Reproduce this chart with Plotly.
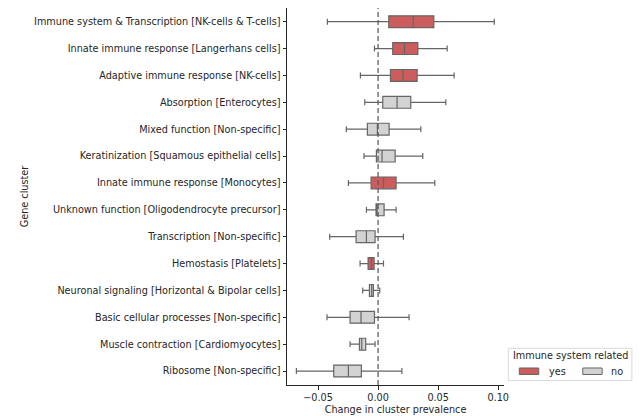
import plotly.graph_objects as go

# Gene clusters, top to bottom
clusters = [
    "Immune system & Transcription [NK-cells & T-cells]",
    "Innate immune response [Langerhans cells]",
    "Adaptive immune response [NK-cells]",
    "Absorption [Enterocytes]",
    "Mixed function [Non-specific]",
    "Keratinization [Squamous epithelial cells]",
    "Innate immune response [Monocytes]",
    "Unknown function [Oligodendrocyte precursor]",
    "Transcription [Non-specific]",
    "Hemostasis [Platelets]",
    "Neuronal signaling [Horizontal & Bipolar cells]",
    "Basic cellular processes [Non-specific]",
    "Muscle contraction [Cardiomyocytes]",
    "Ribosome [Non-specific]",
]
immune_related = ["yes", "yes", "yes", "no", "no", "no", "yes",
                  "no", "no", "yes", "no", "no", "no", "no"]

# Box statistics of the change in cluster prevalence
lower = [-0.0422, -0.0030, -0.0147, -0.0111, -0.0264, -0.0117, -0.0247,
         -0.0097, -0.0403, -0.0150, -0.0128, -0.0425, -0.0233, -0.0680]
q1 = [0.0089, 0.0122, 0.0103, 0.0039, -0.0089, -0.0014, -0.0058,
      -0.0017, -0.0183, -0.0083, -0.0072, -0.0233, -0.0155, -0.0369]
median = [0.0292, 0.0220, 0.0208, 0.0158, -0.0006, 0.0033, 0.0045,
          -0.0008, -0.0097, -0.0055, -0.0053, -0.0142, -0.0136, -0.0247]
q3 = [0.0464, 0.0331, 0.0325, 0.0272, 0.0092, 0.0142, 0.0150,
      0.0050, -0.0025, -0.0033, -0.0039, -0.0030, -0.0103, -0.0139]
upper = [0.0967, 0.0575, 0.0633, 0.0564, 0.0356, 0.0372, 0.0472,
         0.0150, 0.0211, 0.0045, 0.0014, 0.0258, -0.0025, 0.0198]

groups = ["yes", "no"]
group_colors = {"yes": "#cd5c5c", "no": "#d3d3d3"}
edge = "#666666"
text_color = "#262626"
font = "DejaVu Sans"
W, H = 642, 416

# Plot area in pixels
PL, PR, PT, PB = 287.3, 504.0, 8.3, 385.0

fig = go.Figure()
for group in groups:
    idx = [i for i, g in enumerate(immune_related) if g == group]
    fig.add_trace(go.Box(
        name=group,
        orientation="h",
        y=[clusters[i] for i in idx],
        lowerfence=[lower[i] for i in idx],
        q1=[q1[i] for i in idx],
        median=[median[i] for i in idx],
        q3=[q3[i] for i in idx],
        upperfence=[upper[i] for i in idx],
        fillcolor=group_colors[group],
        line=dict(color=edge, width=1.2),
        whiskerwidth=0.5,
        boxpoints=False,
        hoverinfo="skip",
        showlegend=False,
    ))

# Reference line at zero change
fig.add_shape(type="line", xref="x", yref="paper", x0=0, x1=0, y0=0, y1=1,
              line=dict(color="#555555", width=1.2, dash="5px,3px"))


def fx(px):
    return (px - PL) / (PR - PL)


def fy(py):
    return (PB - py) / (PB - PT)


# Legend: frame, colour patches and labels
fig.add_shape(type="rect", xref="paper", yref="paper", layer="above",
              x0=fx(508.3), x1=fx(631.7), y0=fy(380.5), y1=fy(348.3),
              fillcolor="rgba(255,255,255,0.8)",
              line=dict(color="#d9d9d9", width=1))
patch_x = {"yes": (519.3, 538.7, 546.5), "no": (582.7, 602.0, 608.5)}
for group in groups:
    x0, x1, tx = patch_x[group]
    fig.add_shape(type="rect", xref="paper", yref="paper", layer="above",
                  x0=fx(x0), x1=fx(x1), y0=fy(374.5), y1=fy(368.0),
                  fillcolor=group_colors[group],
                  line=dict(color=edge, width=1))
    fig.add_annotation(text=group, xref="paper", yref="paper",
                       x=fx(tx), y=fy(371.3),
                       xanchor="left", yanchor="middle", showarrow=False,
                       font=dict(size=9.7, color=text_color))
fig.add_annotation(text="Immune system related", xref="paper", yref="paper",
                   x=fx(570), y=fy(356.0),
                   xanchor="center", yanchor="middle", showarrow=False,
                   font=dict(size=9.7, color=text_color))

fig.update_layout(
    width=W, height=H,
    margin=dict(l=PL, r=W - PR, t=PT, b=H - PB, autoexpand=False),
    paper_bgcolor="white", plot_bgcolor="white",
    font=dict(family=font, size=9.7, color=text_color),
    boxmode="overlay", boxgap=0.37,
    showlegend=False,
    xaxis=dict(
        range=[-0.0758, 0.1048],
        tickvals=[-0.05, 0.0, 0.05, 0.10],
        tickformat=".2f",
        showgrid=False, zeroline=False,
        showline=True, linecolor=text_color, linewidth=1,
        ticks="outside", ticklen=3.5, tickwidth=0.8, tickcolor=text_color,
        tickfont=dict(color=text_color),
        title=dict(text="Change in cluster prevalence", standoff=4,
                   font=dict(size=9.7, color=text_color)),
    ),
    yaxis=dict(
        type="category",
        categoryorder="array", categoryarray=clusters,
        range=[13.52, -0.51],
        showgrid=False, zeroline=False,
        showline=True, linecolor=text_color, linewidth=1,
        ticks="outside", ticklen=3.5, tickwidth=0.8, tickcolor=text_color,
        tickfont=dict(color=text_color),
        title=dict(text="Gene cluster", standoff=3,
                   font=dict(size=9.7, color=text_color)),
    ),
)

fig.write_html("out.html")
